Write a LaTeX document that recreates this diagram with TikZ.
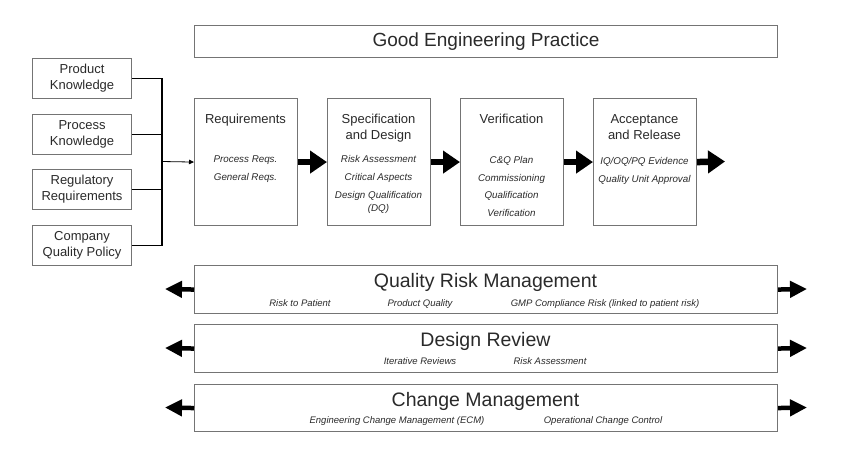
\documentclass[tikz,border=0pt]{standalone}
\usepackage{fontspec}
\setmainfont{Liberation Sans}
\usetikzlibrary{arrows.meta}
\definecolor{boxgray}{HTML}{747474}
\definecolor{txt}{HTML}{2A2A2A}
\begin{document}
\begin{tikzpicture}[x=1pt,y=-1pt,
  frame/.style={draw=boxgray, line width=1.1pt, fill=white, inner sep=0pt, anchor=north west, text=txt},
  srcbox/.style={frame, minimum width=99pt, minimum height=40pt, align=center, font=\fontsize{13}{16}\selectfont},
  stagebox/.style={frame, minimum width=103pt, minimum height=127pt},
  band/.style={frame, minimum width=583pt, minimum height=48pt},
  lbl/.style={text=txt, inner sep=0pt, anchor=base},
  stagetitle/.style={lbl, font=\fontsize{13}{16}\selectfont},
  item/.style={lbl, font=\fontsize{9.8}{12}\selectfont\itshape},
  bandtitle/.style={lbl, font=\fontsize{19.5}{22}\selectfont},
  sub/.style={lbl, font=\fontsize{9.5}{11}\selectfont\itshape},
  bus/.style={draw=black, line width=1.8pt},
  feed/.style={draw=black, line width=0.8pt, -{Triangle[length=5pt,width=4.5pt]}},
  bigarrow/.style={draw=black, line width=6.5pt, -{Triangle[length=17pt,width=22pt]}},
  bandarrow/.style={draw=black, line width=4.5pt, -{Triangle[length=17pt,width=16pt]}}]
\useasboundingbox[fill=white] (0,0) rectangle (841,451);

% Good Engineering Practice
\node[frame, minimum width=583pt, minimum height=32pt, font=\fontsize{19}{22}\selectfont] (gep) at (194,25) {Good Engineering Practice};

% source boxes
\node[srcbox] (pk) at (32,58) {Product\\Knowledge};
\node[srcbox] (prk) at (32,114) {Process\\Knowledge};
\node[srcbox] (rr) at (32,169) {Regulatory\\Requirements};
\node[srcbox] (cq) at (32,225) {Company\\Quality Policy};

% stage boxes
\node[stagebox] (req) at (194,98) {};
\node[stagebox] (spec) at (327,98) {};
\node[stagebox] (ver) at (460,98) {};
\node[stagebox] (acc) at (593,98) {};

% bus
\coordinate (bj) at (162,161.5);
\draw[bus] (pk.east) -| (bj);
\draw[bus] (prk.east) -| (bj);
\draw[bus] (rr.east) -| (bj);
\draw[bus] (cq.east) -| (bj);
\draw[feed] (bj) -- (req.west);

% stage texts
\node[stagetitle] (t1) at (245.5,123) {Requirements};
\node[item] (t1a) at (245.5,162.5) {Process Reqs.};
\node[item] (t1b) at (245.5,180.5) {General Reqs.};

\node[stagetitle] (t2) at (378.5,123) {Specification};
\node[stagetitle] (t2x) at (378.5,139) {and Design};
\node[item] (t2a) at (378.5,162.5) {Risk Assessment};
\node[item] (t2b) at (378.5,180.5) {Critical Aspects};
\node[item] (t2c) at (378.5,198.5) {Design Qualification};
\node[item] (t2d) at (378.5,211.5) {(DQ)};

\node[stagetitle] (t3) at (511.5,123) {Verification};
\node[item] (t3a) at (511.5,163) {C\&Q Plan};
\node[item] (t3b) at (511.5,181) {Commissioning};
\node[item] (t3c) at (511.5,198.5) {Qualification};
\node[item] (t3d) at (511.5,216) {Verification};

\node[stagetitle] (t4) at (644.5,123.5) {Acceptance};
\node[stagetitle] (t4x) at (644.5,139) {and Release};
\node[item] (t4a) at (644.5,164) {IQ/OQ/PQ Evidence};
\node[item] (t4b) at (644.5,182) {Quality Unit Approval};

% stage arrows
\coordinate (accR) at (725,161.5);
\draw[bigarrow] (req.east) -- (spec.west);
\draw[bigarrow] (spec.east) -- (ver.west);
\draw[bigarrow] (ver.east) -- (acc.west);
\draw[bigarrow] (acc.east) -- (accR);

% bands
\node[band] (qrm) at (194,265) {};
\node[band] (dr) at (194,324) {};
\node[band, minimum height=47pt] (cm) at (194,384) {};

\node[bandtitle] (qrmt) at (485.5,287.5) {Quality Risk Management};
\node[sub] (qrm1) at (300,306) {Risk to Patient};
\node[sub] (qrm2) at (420,306) {Product Quality};
\node[sub] (qrm3) at (605,306) {GMP Compliance Risk (linked to patient risk)};

\node[bandtitle] (drt) at (485.5,346) {Design Review};
\node[sub] (dr1) at (420,364.5) {Iterative Reviews};
\node[sub] (dr2) at (550,364.5) {Risk Assessment};

\node[bandtitle] (cmt) at (485.5,406.5) {Change Management};
\node[sub] (cm1) at (397,423.5) {Engineering Change Management (ECM)};
\node[sub] (cm2) at (603,423.5) {Operational Change Control};

% band arrows
\coordinate (qrmL) at (165,289);
\coordinate (qrmR) at (807,289);
\coordinate (drL) at (165,348);
\coordinate (drR) at (807,348);
\coordinate (cmL) at (165,407.5);
\coordinate (cmR) at (807,407.5);
\draw[bandarrow] (qrm.west) -- (qrmL);
\draw[bandarrow] (qrm.east) -- (qrmR);
\draw[bandarrow] (dr.west) -- (drL);
\draw[bandarrow] (dr.east) -- (drR);
\draw[bandarrow] (cm.west) -- (cmL);
\draw[bandarrow] (cm.east) -- (cmR);
\end{tikzpicture}
\end{document}
